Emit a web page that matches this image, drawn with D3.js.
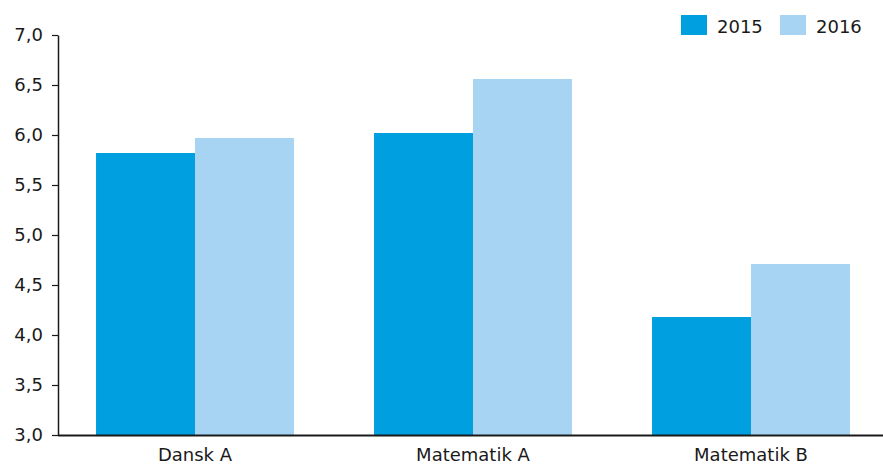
<!DOCTYPE html>
<html><head><meta charset="utf-8">
<script src="https://cdn.jsdelivr.net/npm/d3@7"></script>
<style>body{margin:0;background:#fff}svg{display:block}text{font-family:"DejaVu Sans",Verdana,sans-serif;fill:#1a1a1a}</style>
</head><body><svg id="c" width="883" height="465"></svg>
<script>
const categories = ["Dansk A", "Matematik A", "Matematik B"];
const seriesNames = ["2015", "2016"];
const values2015 = [5.82, 6.02, 4.18];
const values2016 = [5.97, 6.56, 4.71];
const yTicks = [3.0, 3.5, 4.0, 4.5, 5.0, 5.5, 6.0, 6.5, 7.0];
const colors = ["#009fe0", "#a8d4f4"];

const svg = d3.select("#c");
const x0 = d3.scaleBand().domain(categories).range([56, 890]).paddingInner(0.288).paddingOuter(0.144);
const x1 = d3.scaleBand().domain(seriesNames).range([0, x0.bandwidth()]);
const y = d3.scaleLinear().domain([3, 7]).range([435, 35]);

const data = categories.map((c, i) => ({cat: c, vals: [values2015[i], values2016[i]]}));
const g = svg.append("g");
g.selectAll("g.grp").data(data).join("g").attr("class", "grp")
  .attr("transform", d => `translate(${x0(d.cat)},0)`)
  .selectAll("rect").data(d => d.vals.map((v, j) => ({s: seriesNames[j], v, j})))
  .join("rect")
  .attr("x", d => x1(d.s)).attr("width", x1.bandwidth())
  .attr("y", d => y(d.v)).attr("height", d => y(3) - y(d.v))
  .attr("fill", d => colors[d.j]);

const FONT = '"DejaVu Sans",Verdana,sans-serif';
// y axis
const yAxis = d3.axisLeft(y).tickValues(yTicks).tickSize(6).tickSizeOuter(0)
  .tickFormat(d => d3.format(".1f")(d).replace(".", ","));
const ya = svg.append("g").attr("transform", "translate(58,0)").call(yAxis);
ya.select(".domain").attr("stroke", "#1a1a1a").attr("stroke-width", 1.5);
ya.selectAll(".tick line").attr("stroke", "#1a1a1a").attr("stroke-width", 1.2);
ya.selectAll(".tick text").attr("x", -15).style("font-size", "18px").attr("fill", "#1a1a1a")
  .style("font-family", FONT);

// x axis
const xAxis = d3.axisBottom(x0).tickSize(0).tickSizeOuter(0);
const xa = svg.append("g").attr("transform", "translate(0,435)").call(xAxis);
xa.select(".domain").attr("d", "M58,0.5H883").attr("stroke", "#1a1a1a").attr("stroke-width", 1.8);
xa.selectAll(".tick text").attr("y", 13).style("font-size", "18px").attr("fill", "#1a1a1a")
  .style("font-family", FONT);

// legend
const legX = [681, 780];
const leg = svg.append("g").selectAll("g").data(seriesNames).join("g")
  .attr("transform", (d, i) => `translate(${legX[i]},15)`);
leg.append("rect").attr("width", 26).attr("height", 20).attr("fill", (d, i) => colors[i]);
leg.append("text").attr("x", 36).attr("y", 18).style("font-size", "18px").text(d => d);
</script></body></html>
